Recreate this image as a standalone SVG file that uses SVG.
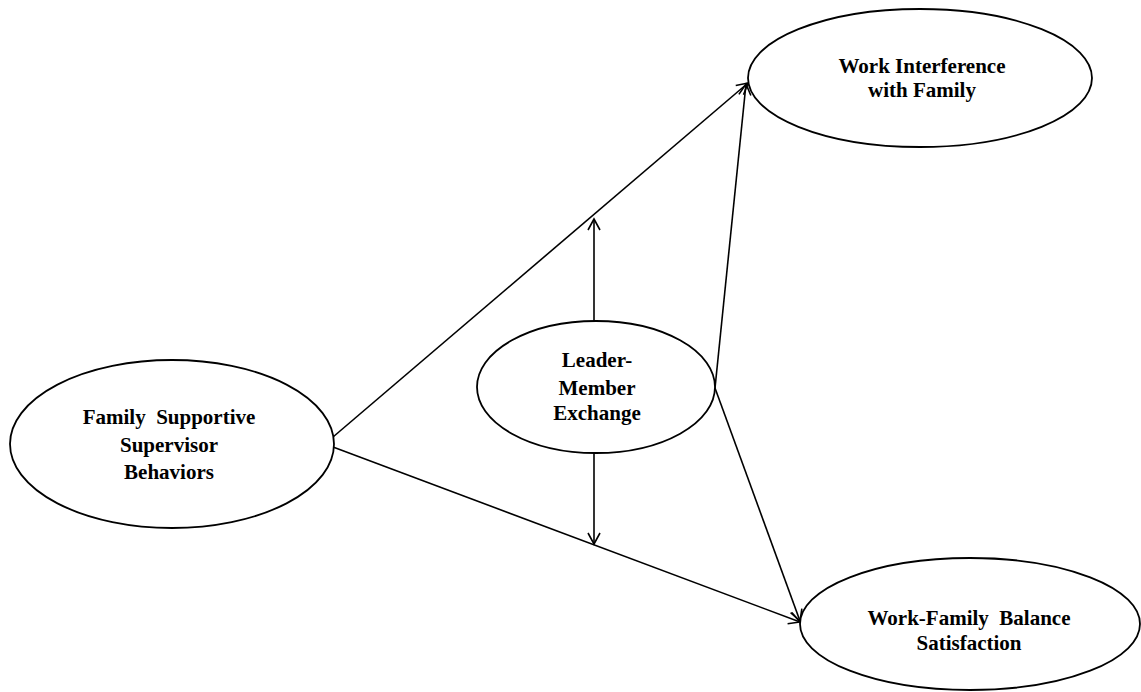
<svg xmlns="http://www.w3.org/2000/svg" width="1141" height="692" viewBox="0 0 1141 692">
<style>
.node ellipse{fill:#fff;stroke:#000;stroke-width:1.8}
.node text{font-family:"Liberation Serif","Times New Roman",serif;font-size:21px;font-weight:bold;fill:#000;text-anchor:middle}
.conn line{stroke:#000;stroke-width:1.6;fill:none}
</style>
<defs>
<marker id="arr" markerUnits="userSpaceOnUse" markerWidth="14" markerHeight="14" viewBox="0 0 14 14" refX="12" refY="7" orient="auto">
<path d="M1,1 L12,7 L1,13" fill="none" stroke="#000" stroke-width="1.6"/>
</marker>
</defs>
<rect width="1141" height="692" fill="#fff"/>
<g id="connectors" class="conn">
<line x1="333" y1="437" x2="748" y2="83" marker-end="url(#arr)"/>
<line x1="333" y1="447" x2="800" y2="622" marker-end="url(#arr)"/>
<line x1="715" y1="388" x2="746" y2="84" marker-end="url(#arr)"/>
<line x1="715" y1="388" x2="800" y2="621" marker-end="url(#arr)"/>
<line x1="594" y1="321" x2="594" y2="219" marker-end="url(#arr)"/>
<line x1="594" y1="453" x2="594" y2="544" marker-end="url(#arr)"/>
</g>
<g id="wif" class="node">
<ellipse cx="920" cy="78" rx="172" ry="69"/>
<text x="922" y="73">Work Interference</text>
<text x="922" y="97">with Family</text>
</g>
<g id="fssb" class="node">
<ellipse cx="172" cy="444" rx="162" ry="84"/>
<text x="169" y="424" xml:space="preserve">Family  Supportive</text>
<text x="169" y="452">Supervisor</text>
<text x="169" y="479">Behaviors</text>
</g>
<g id="lmx" class="node">
<ellipse cx="596" cy="387" rx="119" ry="66"/>
<text x="597" y="367">Leader-</text>
<text x="597" y="395">Member</text>
<text x="597" y="420">Exchange</text>
</g>
<g id="wfbs" class="node">
<ellipse cx="970" cy="624" rx="170" ry="66"/>
<text x="969" y="625" xml:space="preserve">Work-Family  Balance</text>
<text x="969" y="650">Satisfaction</text>
</g>
</svg>
